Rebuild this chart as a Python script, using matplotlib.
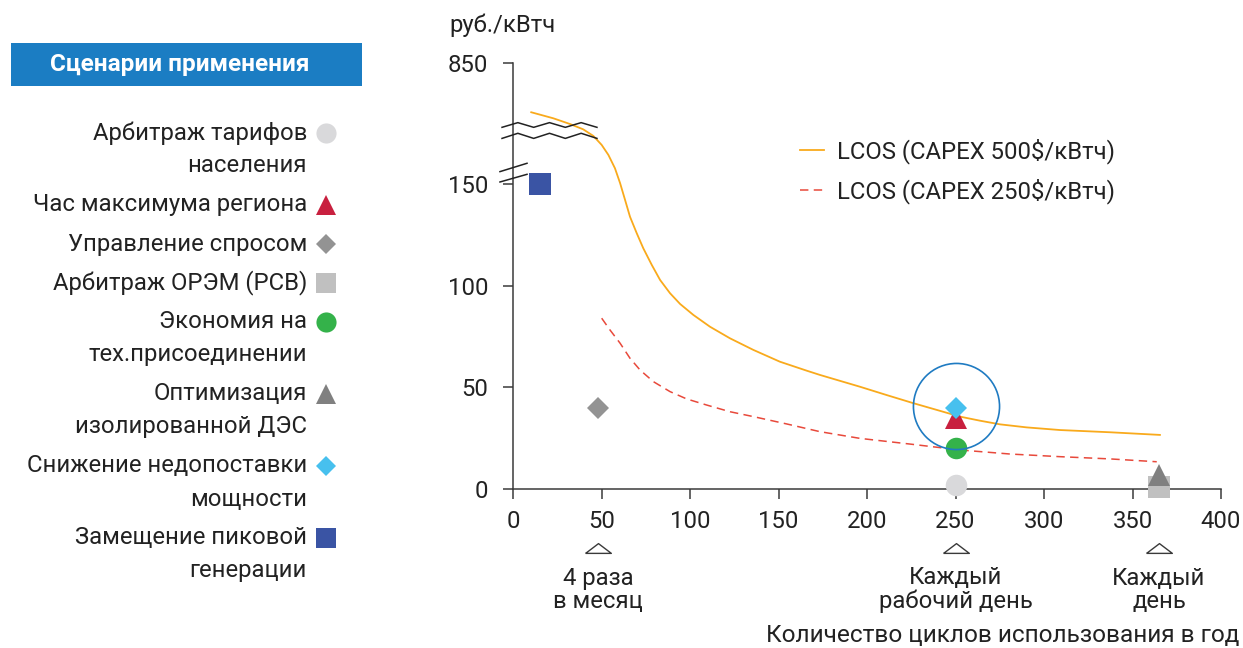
import matplotlib
matplotlib.use("Agg")
import matplotlib.pyplot as plt
import numpy as np
from matplotlib.lines import Line2D

plt.rcParams["font.family"] = ["Roboto", "DejaVu Sans"]
FS = 17.2
plt.rcParams["font.size"] = FS

# LCOS curves, rub/kWh vs cycles per year
lcos500_x = [10.3, 22.8, 32.2, 39.7, 45.4, 50.1, 53.9, 57.6, 60.5, 63.3, 66.1, 69.9, 73.6, 78.4,
             83.1, 88.7, 94.4, 101.9, 111.3, 122.6, 135.8, 150.8, 165.9, 173.4, 196, 211.1,
             226.2, 239.4, 252.5, 263.8, 275.1, 290.2, 309, 337.3, 365.5]
lcos500_y = [565, 530, 497, 466, 428, 376, 318, 241, 155, 142.2, 133.9, 125.8, 118.4, 110.2,
             102.8, 96.3, 91, 85.6, 79.8, 74.1, 68.4, 62.6, 58.2, 56.1, 50.3, 46.2,
             42.2, 38.9, 35.6, 33.6, 31.8, 30.3, 29, 27.9, 26.6]
lcos250_x = [50.1, 54.8, 60.5, 66.1, 71.8, 79.3, 88.7, 98.1, 109.4, 122.6, 135.8, 154.6, 173.4,
             196, 224.3, 252.5, 280.8, 309, 337.3, 363.7]
lcos250_y = [84, 78.2, 71.7, 64.3, 58.5, 52.8, 47.9, 44.3, 41.3, 38, 35.6, 32, 28.2,
             24.9, 22.1, 19.2, 17.2, 15.9, 14.8, 13.4]

# application scenarios
scen_labels = [
    ["Арбитраж тарифов", "населения"],
    ["Час максимума региона"],
    ["Управление спросом"],
    ["Арбитраж ОРЭМ (РСВ)"],
    ["Экономия на", "тех.присоединении"],
    ["Оптимизация", "изолированной ДЭС"],
    ["Снижение недопоставки", "мощности"],
    ["Замещение пиковой", "генерации"],
]
scen_x = [250, 250, 48, 365, 250, 365, 250, 15]
scen_y = [2, 35, 40, 1, 20, 7, 40, 150]
scen_markers = ["o", "^", "D", "s", "o", "^", "D", "s"]
scen_colors = ["#d9d9db", "#c8203f", "#939393", "#c0c0c0", "#34b24a", "#808080", "#47c0ee", "#3a54a4"]

highlight_x = [250]
highlight_y = [41]

milestone_x = [48, 250, 365]
milestone_labels = ["4 раза\nв месяц", "Каждый\nрабочий день", "Каждый\nдень"]

y_ticks = [0, 50, 100, 150, 850]
x_ticks = [0, 50, 100, 150, 200, 250, 300, 350, 400]

# broken y axis: values above 150 are compressed
K = 700 / 59.5


def fwd(v):
    v = np.asarray(v, dtype=float)
    return np.where(v <= 150, v, 150 + (v - 150) / K)


def inv(d):
    d = np.asarray(d, dtype=float)
    return np.where(d <= 150, d, 150 + (d - 150) * K)


W, H = 1243, 648
fig = plt.figure(figsize=(W / 100, H / 100), dpi=100)
ax = fig.add_axes([513 / W, 1 - 489 / H, 708 / W, 426 / H])
ax.set_yscale("function", functions=(fwd, inv))
ax.set_xlim(0, 400)
ax.set_ylim(0, 850)

dark = "#3a3a3a"
txt = "#222222"
for s in ["top", "right"]:
    ax.spines[s].set_visible(False)
for s in ["left", "bottom"]:
    ax.spines[s].set_color(dark)
    ax.spines[s].set_linewidth(1.1)
ax.set_xticks(x_ticks)
ax.set_yticks(y_ticks)
ax.set_yticklabels([str(t) for t in y_ticks])
ax.minorticks_off()
ax.tick_params(axis="x", direction="out", length=7, width=1.1, color=dark, pad=8,
               labelsize=FS, labelcolor=txt)
ax.tick_params(axis="y", direction="out", length=7, width=1.1, color=dark, pad=11,
               labelsize=FS, labelcolor=txt)

l1, = ax.plot(lcos500_x, lcos500_y, color="#f9aa1c", lw=1.3, label="LCOS (CAPEX 500$/кВтч)")
l2, = ax.plot(lcos250_x, lcos250_y, color="#e8493b", lw=1.1, dashes=(5.5, 3.5),
              label="LCOS (CAPEX 250$/кВтч)")

for x, y, m, c in zip(scen_x, scen_y, scen_markers, scen_colors):
    ms = 11 if m == "D" else 15.5
    ax.plot([x], [y], marker=m, color=c, ms=ms, mew=0, ls="none", clip_on=False, zorder=3)

ax.plot(highlight_x, highlight_y, marker="o", ms=62, mfc="none", mec="#1f7bc2", mew=1.2,
        ls="none", zorder=4)

leg = ax.legend(handles=[l1, l2], loc="upper left", bbox_to_anchor=(0.405, 0.822),
                frameon=False, fontsize=FS, handlelength=1.0, handletextpad=0.55,
                labelspacing=0.6, borderpad=0, borderaxespad=0)
for t in leg.get_texts():
    t.set_color(txt)

# break marks
zx = np.linspace(-0.0155, 0.1186, 7)
for lo, hi in [(0.849, 0.860), (0.823, 0.835)]:
    zy = [lo if i % 2 == 0 else hi for i in range(7)]
    ax.plot(zx, zy, color=txt, lw=1.1, transform=ax.transAxes, clip_on=False, zorder=5)
for y0, y1 in [(0.745, 0.7646), (0.7207, 0.7387)]:
    ax.plot([-0.0184, 0.0198], [y0, y1], color=txt, lw=1.1, transform=ax.transAxes,
            clip_on=False, zorder=5)

# milestones under the x axis
tri = [(-1, -0.38), (0, 0.38), (1, -0.38), (-1, -0.38)]
xt = ax.get_xaxis_transform()
for x, lab in zip(milestone_x, milestone_labels):
    ax.plot([x], [-0.1385], marker=tri, ms=18.5, mfc="none", mec=dark, mew=1.0,
            transform=xt, clip_on=False)
    ax.text(x, -0.236, lab, transform=xt, ha="center", va="center", fontsize=FS,
            linespacing=1.0, color=txt)

fig.text(449 / W, 1 - 25 / H, "руб./кВтч", ha="left", va="center", fontsize=FS, color=txt)
fig.text(1239 / W, 1 - 636 / H, "Количество циклов использования в год", ha="right",
         va="center", fontsize=17.6, color=txt)

# scenario legend on the left
fig.add_artist(plt.Rectangle((11 / W, 1 - 86 / H), 351 / W, 43 / H, transform=fig.transFigure,
                             color="#1b7dc3", lw=0))
fig.text(180 / W, 1 - 64.5 / H, "Сценарии применения", ha="center", va="center",
         fontsize=17.5, fontweight="bold", color="white")

line_i = 0
for i, (lines, m, c) in enumerate(zip(scen_labels, scen_markers, scen_colors)):
    for j, line in enumerate(lines):
        py = 133 + 33 * line_i + 6 * i
        fig.text(307 / W, 1 - py / H, line, ha="right", va="center", fontsize=FS, color=txt)
        if j == 0:
            ms = 10.5 if m == "D" else 14.5
            fig.add_artist(Line2D([326 / W], [1 - py / H], marker=m, color=c, ms=ms, mew=0,
                                  ls="none", transform=fig.transFigure))
        line_i += 1

fig.savefig("out.png", dpi=100)
plt.close(fig)
